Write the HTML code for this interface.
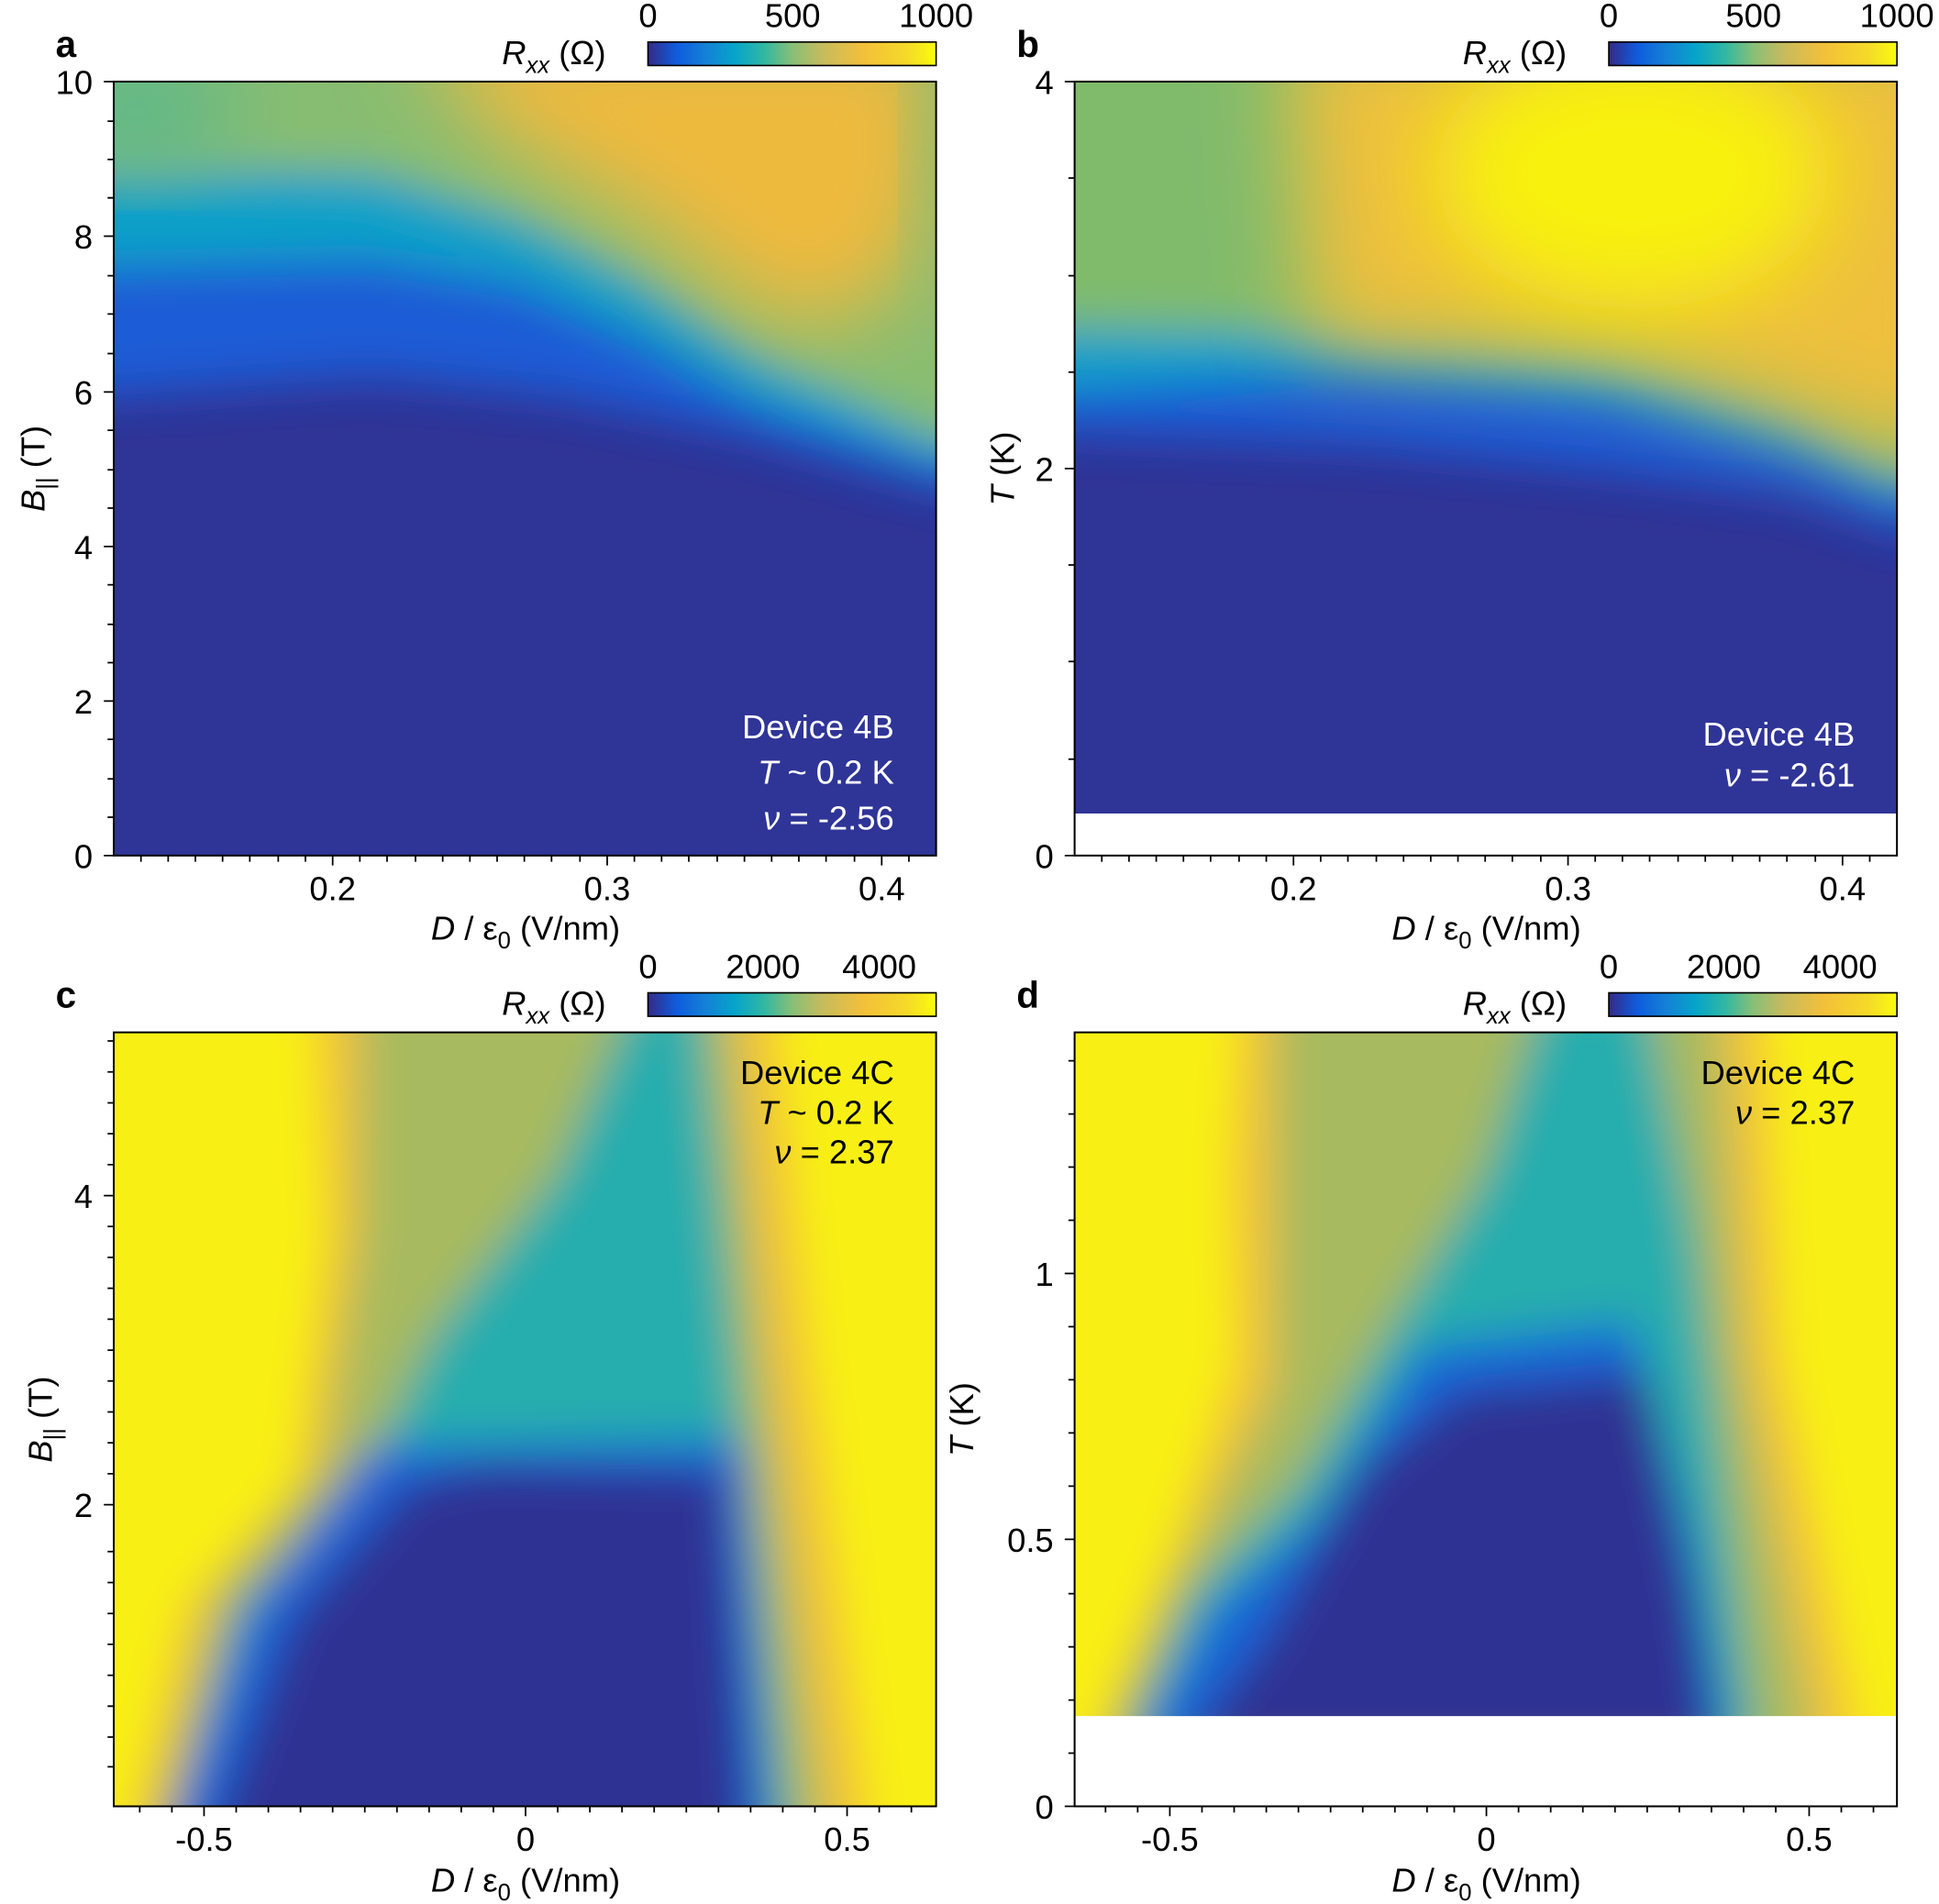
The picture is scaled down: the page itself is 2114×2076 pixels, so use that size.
<!DOCTYPE html>
<html><head><meta charset="utf-8"><style>
html,body{margin:0;padding:0;background:#fff;}
svg{display:block;}
text{font-family:"Liberation Sans",Arial,sans-serif;fill:#000;}
text.w, text.w tspan{fill:#fff;}
</style></head><body>
<svg width="2114" height="2076" viewBox="0 0 1568 1540" preserveAspectRatio="none" xmlns="http://www.w3.org/2000/svg">
<defs>
<linearGradient id="parula" x1="0" x2="1" y1="0" y2="0">
<stop offset="0" stop-color="#352a87"/><stop offset="0.1" stop-color="#0f5cdd"/><stop offset="0.2" stop-color="#1481d6"/>
<stop offset="0.3" stop-color="#06a4ca"/><stop offset="0.4" stop-color="#2eb7a4"/><stop offset="0.5" stop-color="#87bf77"/>
<stop offset="0.6" stop-color="#c4bb5e"/><stop offset="0.75" stop-color="#f4c03a"/><stop offset="0.9" stop-color="#f5da28"/><stop offset="1" stop-color="#f9fb0e"/>
</linearGradient>
<filter id="bl" x="-20%" y="-20%" width="140%" height="140%"><feGaussianBlur stdDeviation="18"/></filter>
<filter id="bl2" x="-30%" y="-30%" width="160%" height="160%"><feGaussianBlur stdDeviation="35"/></filter>
<clipPath id="ca"><rect x="92" y="66" width="665" height="626"/></clipPath>
<clipPath id="cb"><rect x="869" y="66" width="665" height="592"/></clipPath>
<clipPath id="cc"><rect x="92" y="835" width="665" height="626"/></clipPath>
<clipPath id="cd"><rect x="869" y="835" width="665" height="553"/></clipPath>
</defs>

<!-- Panel a -->
<g clip-path="url(#ca)">
<rect x="92" y="66" width="665" height="626" fill="#2f3497"/>
<g filter="url(#bl)">
<polygon fill="#1a5cd6" points="40,0 800,0 800,400 757,395 600,350 450,320 300,305 92,320 40,320"/>
<polygon fill="#0ea0c8" points="40,0 800,0 800,380 757,375 620,330 520,275 420,230 300,210 92,215 40,215"/>
<polygon fill="#87bd72" points="40,0 800,0 800,360 757,355 620,290 520,225 420,175 300,140 92,135 40,135"/>
</g>
<polygon fill="#eeba3e" filter="url(#bl2)" points="330,20 757,20 757,180 700,260 620,260 520,180 400,110"/>
<ellipse cx="790" cy="140" rx="40" ry="140" fill="#9cba6a" filter="url(#bl2)"/>
<ellipse cx="110" cy="90" rx="80" ry="50" fill="#5fb889" filter="url(#bl2)"/>
</g>
<rect x="92" y="66" width="665" height="626" fill="none" stroke="#000" stroke-width="1.5"/>

<!-- Panel b -->
<g clip-path="url(#cb)">
<rect x="869" y="66" width="665" height="592" fill="#2f3497"/>
<g filter="url(#bl)">
<polygon fill="#1a5cd6" points="820,0 1600,0 1600,430 1534,430 1450,400 1300,380 1100,360 869,350 820,350"/>
<polygon fill="#0ea0c8" points="820,0 1600,0 1600,400 1534,400 1450,360 1300,320 1100,300 869,315 820,315"/>
<polygon fill="#80bb6c" points="820,0 1600,0 1600,380 1534,380 1450,330 1300,290 1100,270 869,265 820,265"/>
</g>
<polygon fill="#eec03c" filter="url(#bl2)" points="1040,20 1600,20 1600,360 1534,365 1300,285 1060,280"/>
<ellipse cx="1320" cy="140" rx="160" ry="110" fill="#f8f10e" filter="url(#bl2)"/>
</g>
<rect x="869" y="66" width="665" height="626" fill="none" stroke="#000" stroke-width="1.5"/>

<!-- Panel c -->
<g clip-path="url(#cc)">
<rect x="92" y="835" width="665" height="626" fill="#f8f014"/>
<g filter="url(#bl)">
<polygon fill="#f4c23a" points="255,800 625,800 655,1100 705,1500 100,1500 150,1300 240,1200 265,1000"/>
<polygon fill="#a7ba5e" points="290,800 590,800 620,1100 670,1500 120,1500 175,1290 260,1190 290,1000"/>
<polygon fill="#27adad" points="515,800 565,800 595,1100 640,1500 132,1500 190,1300 290,1200 350,1080 450,950"/>
<polygon fill="#1565d8" points="300,1170 600,1165 625,1500 130,1500 200,1300"/>
<polygon fill="#2e3192" points="390,1185 585,1190 605,1500 165,1500 235,1310 330,1200"/>
</g>
</g>
<rect x="92" y="835" width="665" height="626" fill="none" stroke="#000" stroke-width="1.5"/>

<!-- Panel d -->
<g clip-path="url(#cd)">
<rect x="869" y="835" width="665" height="553" fill="#f8f014"/>
<g filter="url(#bl)">
<polygon fill="#f4c23a" points="1005,800 1425,800 1440,1100 1505,1420 880,1420 950,1250 1000,1100 995,950"/>
<polygon fill="#a7ba5e" points="1030,800 1390,800 1410,1100 1470,1420 892,1420 960,1260 1030,1120 1030,950"/>
<polygon fill="#27adad" points="1250,800 1330,800 1370,1000 1420,1420 905,1420 960,1290 1050,1200 1120,1080 1200,950"/>
<polygon fill="#1565d8" points="1150,1090 1320,1070 1370,1250 1400,1420 915,1420 980,1300 1060,1230"/>
<polygon fill="#2e3192" points="1180,1125 1330,1110 1370,1300 1385,1420 950,1420 1020,1330 1100,1190"/>
</g>
</g>
<rect x="869" y="835" width="665" height="626" fill="none" stroke="#000" stroke-width="1.5"/>

<!-- Colorbars -->
<g stroke="#000" stroke-width="1.2">
<rect x="524" y="34" width="233" height="19" fill="url(#parula)"/>
<rect x="1301" y="34" width="233" height="19" fill="url(#parula)"/>
<rect x="524" y="803" width="233" height="19" fill="url(#parula)"/>
<rect x="1301" y="803" width="233" height="19" fill="url(#parula)"/>
</g>
<g font-size="27" text-anchor="middle">
<text x="524" y="22">0</text><text x="641" y="22">500</text><text x="757" y="22">1000</text>
<text x="1301" y="22">0</text><text x="1418" y="22">500</text><text x="1534" y="22">1000</text>
<text x="524" y="791">0</text><text x="617" y="791">2000</text><text x="711" y="791">4000</text>
<text x="1301" y="791">0</text><text x="1394" y="791">2000</text><text x="1488" y="791">4000</text>
</g>
<g font-size="27" text-anchor="end">
<text x="490" y="52"><tspan font-style="italic">R</tspan><tspan font-style="italic" font-size="19" dy="7">xx</tspan><tspan dy="-7"> (Ω)</tspan></text>
<text x="1267" y="52"><tspan font-style="italic">R</tspan><tspan font-style="italic" font-size="19" dy="7">xx</tspan><tspan dy="-7"> (Ω)</tspan></text>
<text x="490" y="821"><tspan font-style="italic">R</tspan><tspan font-style="italic" font-size="19" dy="7">xx</tspan><tspan dy="-7"> (Ω)</tspan></text>
<text x="1267" y="821"><tspan font-style="italic">R</tspan><tspan font-style="italic" font-size="19" dy="7">xx</tspan><tspan dy="-7"> (Ω)</tspan></text>
</g>
<g font-size="30" font-weight="bold">
<text x="45" y="46">a</text><text x="822" y="46">b</text><text x="45" y="815">c</text><text x="822" y="815">d</text>
</g>

<!-- Ticks -->
<g stroke="#000" stroke-width="1.3">
<path d="M269,692v8M491,692v8M713,692v8M114,692v5M136,692v5M158,692v5M180,692v5M202,692v5M225,692v5M247,692v5M291,692v5M313,692v5M336,692v5M358,692v5M380,692v5M402,692v5M424,692v5M446,692v5M469,692v5M513,692v5M535,692v5M557,692v5M580,692v5M602,692v5M624,692v5M646,692v5M668,692v5M691,692v5M735,692v5"/>
<path d="M1046,692v8M1268,692v8M1490,692v8M891,692v5M913,692v5M935,692v5M957,692v5M979,692v5M1002,692v5M1024,692v5M1068,692v5M1090,692v5M1113,692v5M1135,692v5M1157,692v5M1179,692v5M1201,692v5M1223,692v5M1246,692v5M1290,692v5M1312,692v5M1334,692v5M1357,692v5M1379,692v5M1401,692v5M1423,692v5M1445,692v5M1468,692v5M1512,692v5"/>
<path d="M92,692h-8M92,567h-8M92,442h-8M92,317h-8M92,191h-8M92,66h-8M92,661h-5M92,630h-5M92,598h-5M92,536h-5M92,505h-5M92,473h-5M92,411h-5M92,380h-5M92,348h-5M92,286h-5M92,254h-5M92,223h-5M92,160h-5M92,129h-5M92,98h-5"/>
<path d="M869,692h-8M869,379h-8M869,66h-8M869,614h-5M869,535h-5M869,457h-5M869,301h-5M869,223h-5M869,144h-5"/>
<path d="M165,1461v8M425,1461v8M685,1461v8M113,1461v5M139,1461v5M191,1461v5M217,1461v5M243,1461v5M269,1461v5M295,1461v5M321,1461v5M347,1461v5M373,1461v5M399,1461v5M451,1461v5M477,1461v5M503,1461v5M529,1461v5M555,1461v5M581,1461v5M607,1461v5M633,1461v5M659,1461v5M711,1461v5M737,1461v5"/>
<path d="M92,1217h-8M92,967h-8M92,1429h-5M92,1405h-5M92,1380h-5M92,1355h-5M92,1330h-5M92,1305h-5M92,1280h-5M92,1255h-5M92,1192h-5M92,1167h-5M92,1142h-5M92,1117h-5M92,1092h-5M92,1067h-5M92,1042h-5M92,1017h-5M92,992h-5M92,942h-5M92,917h-5M92,892h-5M92,867h-5M92,842h-5"/>
<path d="M946,1461v8M1202,1461v8M1463,1461v8M894,1461v5M920,1461v5M972,1461v5M998,1461v5M1024,1461v5M1050,1461v5M1076,1461v5M1102,1461v5M1128,1461v5M1154,1461v5M1176,1461v5M1228,1461v5M1254,1461v5M1280,1461v5M1306,1461v5M1332,1461v5M1358,1461v5M1384,1461v5M1410,1461v5M1436,1461v5M1489,1461v5M1515,1461v5"/>
<path d="M869,1461h-8M869,1245h-8M869,1030h-8M869,1418h-5M869,1375h-5M869,1332h-5M869,1289h-5M869,1202h-5M869,1159h-5M869,1116h-5M869,1073h-5M869,987h-5M869,944h-5M869,901h-5M869,858h-5"/>
</g>

<!-- Tick labels -->
<g font-size="27" text-anchor="middle">
<text x="269" y="728">0.2</text><text x="491" y="728">0.3</text><text x="713" y="728">0.4</text>
<text x="1046" y="728">0.2</text><text x="1268" y="728">0.3</text><text x="1490" y="728">0.4</text>
<text x="165" y="1497">-0.5</text><text x="425" y="1497">0</text><text x="685" y="1497">0.5</text>
<text x="946" y="1497">-0.5</text><text x="1202" y="1497">0</text><text x="1463" y="1497">0.5</text>
</g>
<g font-size="27" text-anchor="end">
<text x="75" y="702">0</text><text x="75" y="577">2</text><text x="75" y="452">4</text><text x="75" y="327">6</text><text x="75" y="201">8</text><text x="75" y="76">10</text>
<text x="852" y="702">0</text><text x="852" y="389">2</text><text x="852" y="76">4</text>
<text x="75" y="1227">2</text><text x="75" y="977">4</text>
<text x="852" y="1471">0</text><text x="852" y="1255">0.5</text><text x="852" y="1040">1</text>
</g>

<!-- Axis labels -->
<g font-size="27" text-anchor="middle">
<text x="425" y="760"><tspan font-style="italic">D</tspan> / ε<tspan font-size="19" dy="7">0</tspan><tspan dy="-7"> (V/nm)</tspan></text>
<text x="1202" y="760"><tspan font-style="italic">D</tspan> / ε<tspan font-size="19" dy="7">0</tspan><tspan dy="-7"> (V/nm)</tspan></text>
<text x="425" y="1530"><tspan font-style="italic">D</tspan> / ε<tspan font-size="19" dy="7">0</tspan><tspan dy="-7"> (V/nm)</tspan></text>
<text x="1202" y="1530"><tspan font-style="italic">D</tspan> / ε<tspan font-size="19" dy="7">0</tspan><tspan dy="-7"> (V/nm)</tspan></text>
<text transform="translate(36,379) rotate(-90)"><tspan font-style="italic">B</tspan><tspan font-size="19" dy="7">||</tspan><tspan dy="-7"> (T)</tspan></text>
<text transform="translate(820,379) rotate(-90)"><tspan font-style="italic">T</tspan> (K)</text>
<text transform="translate(42,1148) rotate(-90)"><tspan font-style="italic">B</tspan><tspan font-size="19" dy="7">||</tspan><tspan dy="-7"> (T)</tspan></text>
<text transform="translate(787,1148) rotate(-90)"><tspan font-style="italic">T</tspan> (K)</text>
</g>

<!-- Annotations -->
<g font-size="27" text-anchor="end">
<text class="w" x="723" y="597">Device 4B</text>
<text class="w" x="723" y="634"><tspan font-style="italic">T</tspan> ~ 0.2 K</text>
<text class="w" x="723" y="671"><tspan font-style="italic">ν</tspan> = -2.56</text>
<text class="w" x="1500" y="603">Device 4B</text>
<text class="w" x="1500" y="636"><tspan font-style="italic">ν</tspan> = -2.61</text>
<text x="723" y="877">Device 4C</text>
<text x="723" y="909"><tspan font-style="italic">T</tspan> ~ 0.2 K</text>
<text x="723" y="941"><tspan font-style="italic">ν</tspan> = 2.37</text>
<text x="1500" y="877">Device 4C</text>
<text x="1500" y="909"><tspan font-style="italic">ν</tspan> = 2.37</text>
</g>
</svg>
</body></html>
